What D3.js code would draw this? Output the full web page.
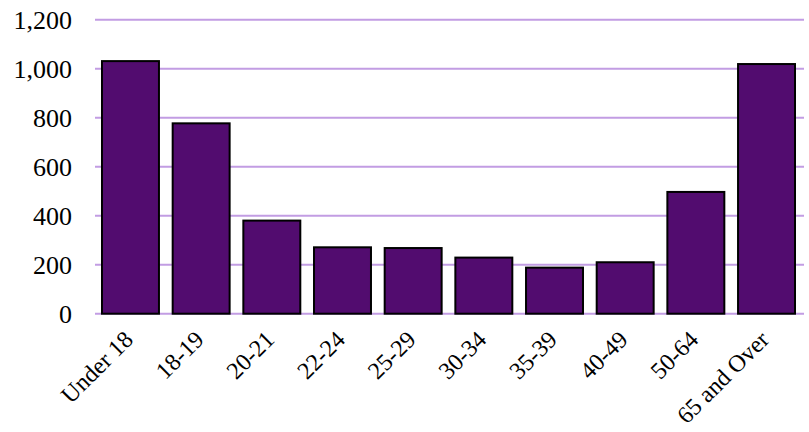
<!DOCTYPE html>
<html><head><meta charset="utf-8">
<script src="https://cdn.jsdelivr.net/npm/d3@7"></script>
<style>body{margin:0;background:#fff;} svg{display:block;}</style>
</head><body>
<svg id="chart" width="809" height="432"></svg>
<script>
const categories = ["Under 18","18-19","20-21","22-24","25-29","30-34","35-39","40-49","50-64","65 and Over"];
const values = [1031, 777, 380, 271, 268, 229, 188, 210, 497, 1019];
const yTicks = [0, 200, 400, 600, 800, 1000, 1200];

const svg = d3.select("#chart");
const x = d3.scaleBand().domain(categories).range([95, 802]).paddingInner(0.194).paddingOuter(0.099);
const y = d3.scaleLinear().domain([0, 1200]).range([313.7, 19.7]);
const font = "'Liberation Serif', 'Times New Roman', serif";

svg.append("g").selectAll("line").data(yTicks).join("line")
  .attr("x1", 95).attr("x2", 804)
  .attr("y1", d => y(d)).attr("y2", d => y(d))
  .attr("stroke", "#C29DE3").attr("stroke-width", 2);

svg.append("g").selectAll("text").data(yTicks).join("text")
  .attr("x", 72).attr("y", d => y(d)).attr("dy", "0.34em")
  .attr("text-anchor", "end").attr("font-family", font).attr("font-size", 26)
  .attr("fill", "#000").text(d => d3.format(",")(d));

svg.append("g").selectAll("rect").data(values).join("rect")
  .attr("x", (d, i) => x(categories[i]))
  .attr("width", x.bandwidth())
  .attr("y", d => y(d))
  .attr("height", d => y(0) - y(d))
  .attr("fill", "#520C6F").attr("stroke", "#000").attr("stroke-width", 2);

svg.append("g").selectAll("text").data(categories).join("text")
  .attr("transform", d => `translate(${x(d) + x.bandwidth()/2 + 4},${341}) rotate(-45)`)
  .attr("text-anchor", "end").attr("font-family", font).attr("font-size", 24)
  .attr("fill", "#000").text(d => d);
</script>
</body></html>
